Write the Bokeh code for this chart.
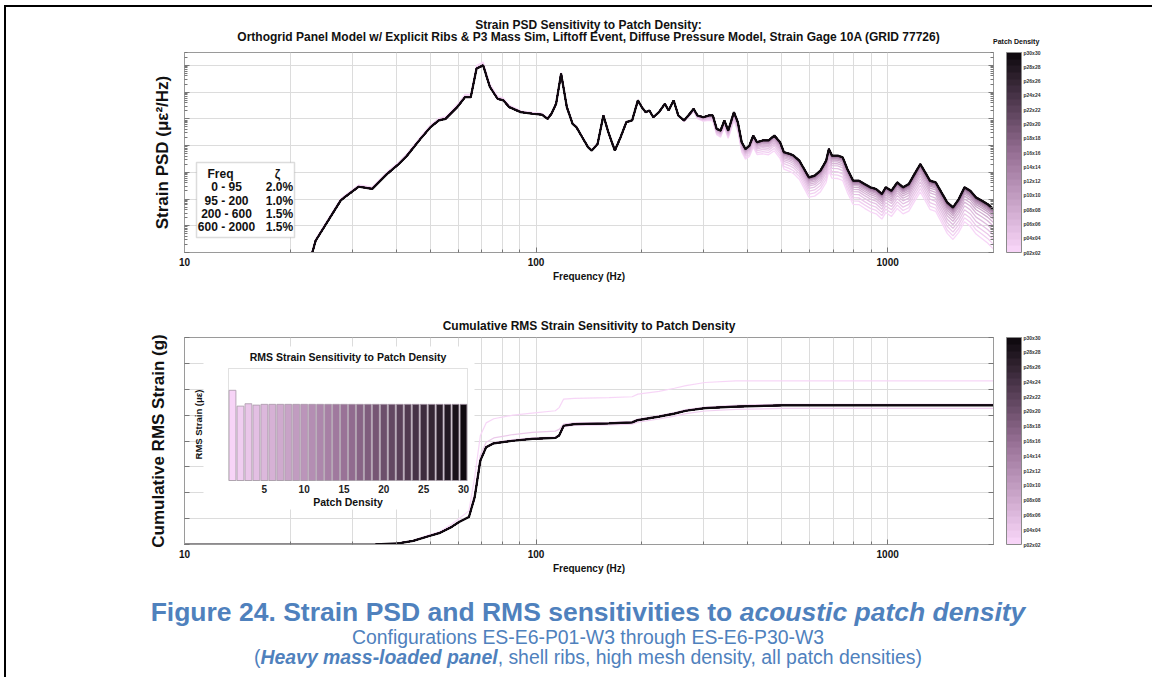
import numpy as np
from bokeh.plotting import figure
from bokeh.models import (Range1d, FixedTicker, LogAxis, LinearAxis, Label, BoxAnnotation,
                          ColorBar, LinearColorMapper, Div, LinearScale, Title)
from bokeh.layouts import column
from bokeh.core.properties import value
from bokeh.embed import file_html
from bokeh.resources import INLINE

# ---------------------------------------------------------------- data
# Strain PSD of the densest patch configuration (P30), log10 of ue^2/Hz
psd_freq = [21.0, 23.1, 23.6, 27.8, 28.5, 31.3, 34.2, 37.7, 40.7, 43.0, 46.9, 50.1, 52.9, 55.3,
            59.7, 62.8, 65.2, 67.7, 70.7, 73.9, 77.7, 80.7, 83.8, 90.4, 97.5, 103.8, 107.8,
            110.6, 114.0, 117.8, 122.3, 127.0, 130.2, 135.3, 140.5, 144.0, 149.6, 155.4, 160.5,
            167.5, 173.9, 180.6, 187.6, 194.8, 199.7, 204.9, 210.1, 215.4, 223.7, 232.3, 238.3,
            246.2, 253.8, 263.6, 273.6, 280.6, 287.8, 298.8, 310.3, 318.2, 326.4, 334.7, 343.2,
            351.9, 365.4, 374.8, 384.4, 394.1, 404.3, 414.6, 425.1, 441.4, 458.4, 476.0, 494.3,
            506.9, 526.4, 539.8, 560.6, 575.0, 597.0, 619.9, 643.7, 668.5, 680.4, 694.2, 720.9,
            745.0, 767.8, 797.3, 827.9, 859.8, 892.9, 927.3, 962.9, 987.4, 1025.4, 1064.9,
            1105.8, 1148.4, 1192.6, 1238.5, 1286.2, 1319.0, 1369.7, 1422.3, 1477.0, 1533.9,
            1593.0, 1654.3, 1717.9, 1784.1, 1852.8, 1924.1, 2000.0]
psd_log_p30 = [-5.6, -5.0, -4.56, -3.06, -2.94, -2.54, -2.62, -2.06, -1.69, -1.37, -0.75, -0.31,
               -0.06, 0.0, 0.44, 0.81, 0.81, 1.875, 2.0, 1.19, 0.75, 0.69, 0.44, 0.25, 0.19, 0.16,
               0.0, 0.19, 0.56, 1.69, 0.44, -0.19, -0.31, -0.69, -1.06, -1.19, -0.94, 0.125,
               -0.5, -1.19, -0.69, -0.125, -0.06, 0.69, 0.44, 0.25, 0.31, 0.06, 0.25, 0.56, 0.31,
               0.69, 0.125, -0.06, 0.19, 0.375, 0.125, 0.06, 0.125, 0.125, -0.375, -0.44, -0.06,
               -0.44, 0.25, -0.125, -0.875, -1.125, -1.0, -0.625, -0.875, -0.81, -0.81, -0.625,
               -0.875, -1.25, -1.31, -1.375, -1.5625, -1.8125, -2.19, -2.125, -1.94, -1.5625,
               -1.125, -1.375, -1.375, -1.44, -1.875, -2.31, -2.31, -2.44, -2.56, -2.625, -2.81,
               -2.56, -2.69, -2.375, -2.56, -2.44, -2.06, -1.69, -2.06, -2.31, -2.375, -2.75,
               -3.125, -3.31, -3.0, -2.56, -2.69, -2.94, -3.06, -3.19, -3.375]

# deviation (decades) of each patch density P01..P30 from P30, read at these frequencies
offset_freq = [10, 55, 70, 90, 250, 380, 500, 700, 1000, 1400, 2000]
psd_offsets = [
    [0.04, 0.08, 0.12, 0.05, 0.0, -0.35, -0.62, -0.85, -0.95, -1.10, -1.50],
    [0.00, 0.01, 0.02, 0.01, 0.0, -0.30, -0.52, -0.72, -0.82, -0.98, -1.32],
    [0.02, 0.04, 0.05, 0.03, 0.0, -0.24, -0.42, -0.60, -0.70, -0.85, -1.15],
    [0.00, 0.01, 0.01, 0.01, 0.0, -0.19, -0.34, -0.48, -0.58, -0.72, -0.98],
    [0.00, 0.00, 0.00, 0.00, 0.0, -0.15, -0.27, -0.38, -0.47, -0.60, -0.80],
    [0.00, 0.00, 0.00, 0.00, 0.0, -0.12, -0.21, -0.30, -0.38, -0.48, -0.64],
    [0.00, 0.00, 0.00, 0.00, 0.0, -0.09, -0.16, -0.23, -0.30, -0.38, -0.50],
    [0.00, 0.00, 0.00, 0.00, 0.0, -0.07, -0.12, -0.17, -0.23, -0.29, -0.38],
    [0.00, 0.00, 0.00, 0.00, 0.0, -0.05, -0.09, -0.13, -0.17, -0.22, -0.29],
    [0.00, 0.00, 0.00, 0.00, 0.0, -0.04, -0.07, -0.10, -0.13, -0.17, -0.22],
    [0.00, 0.00, 0.00, 0.00, 0.0, -0.03, -0.05, -0.08, -0.10, -0.13, -0.17],
    [0.00, 0.00, 0.00, 0.00, 0.0, -0.02, -0.04, -0.06, -0.08, -0.10, -0.13],
    [0.00, 0.00, 0.00, 0.00, 0.0, -0.02, -0.03, -0.05, -0.06, -0.08, -0.10],
    [0.00, 0.00, 0.00, 0.00, 0.0, -0.01, -0.02, -0.04, -0.05, -0.06, -0.08],
    [0.00, 0.00, 0.00, 0.00, 0.0, -0.01, -0.02, -0.03, -0.04, -0.05, -0.06],
    [0.00, 0.00, 0.00, 0.00, 0.0, 0.00, -0.01, -0.02, -0.03, -0.04, -0.05],
    [0.00, 0.00, 0.00, 0.00, 0.0, 0.00, -0.01, -0.02, -0.02, -0.03, -0.04],
    [0.00, 0.00, 0.00, 0.00, 0.0, 0.00, -0.01, -0.01, -0.02, -0.02, -0.03],
    [0.00, 0.00, 0.00, 0.00, 0.0, 0.00, 0.00, -0.01, -0.01, -0.02, -0.02],
    [0.00, 0.00, 0.00, 0.00, 0.0, 0.00, 0.00, -0.01, -0.01, -0.02, -0.02],
    [0.00, 0.00, 0.00, 0.00, 0.0, 0.00, 0.00, -0.01, -0.01, -0.01, -0.02],
    [0.00, 0.00, 0.00, 0.00, 0.0, 0.00, 0.00, 0.00, -0.01, -0.01, -0.01],
    [0.00, 0.00, 0.00, 0.00, 0.0, 0.00, 0.00, 0.00, 0.00, -0.01, -0.01],
    [0.00, 0.00, 0.00, 0.00, 0.0, 0.00, 0.00, 0.00, 0.00, 0.00, -0.01],
    [0.00, 0.00, 0.00, 0.00, 0.0, 0.00, 0.00, 0.00, 0.00, 0.00, 0.00],
    [0.00, 0.00, 0.00, 0.00, 0.0, 0.00, 0.00, 0.00, 0.00, 0.00, 0.00],
    [0.00, 0.00, 0.00, 0.00, 0.0, 0.00, 0.00, 0.00, 0.00, 0.00, 0.00],
    [0.00, 0.00, 0.00, 0.00, 0.0, 0.00, 0.00, 0.00, 0.00, 0.00, 0.00],
    [0.00, 0.00, 0.00, 0.00, 0.0, 0.00, 0.00, 0.00, 0.00, 0.00, 0.00],
    [0.00, 0.00, 0.00, 0.00, 0.0, 0.00, 0.00, 0.00, 0.00, 0.00, 0.00],
]

# cumulative RMS strain
cum_freq = [10, 30, 35, 40.4, 44.7, 49.4, 53.3, 57.5, 60.4, 64.4, 66.9, 69.4, 72.1, 75.8, 86.0,
            97.5, 113.4, 116.3, 119.8, 128.6, 161.2, 187.6, 194.8, 223.7, 247.4, 266.8, 302.4,
            369.6, 499.8, 2000]
cum_p30 = [0, 0, 0.01, 0.04, 0.14, 0.32, 0.45, 0.68, 0.87, 1.06, 1.83, 3.24, 3.76, 3.91, 4.01,
           4.08, 4.12, 4.21, 4.59, 4.65, 4.68, 4.72, 4.81, 4.94, 5.06, 5.17, 5.27, 5.33, 5.38, 5.38]
cum_p01 = [0, 0, 0.01, 0.05, 0.16, 0.36, 0.50, 0.78, 1.00, 1.30, 2.60, 4.20, 4.70, 4.86, 5.00,
           5.08, 5.17, 5.29, 5.62, 5.65, 5.68, 5.71, 5.81, 5.92, 6.04, 6.14, 6.26, 6.32, 6.32, 6.32]
cum_p02 = [0, 0, 0.01, 0.04, 0.14, 0.32, 0.45, 0.68, 0.87, 1.06, 1.85, 3.30, 3.80, 3.95, 4.05,
           4.12, 4.16, 4.24, 4.55, 4.60, 4.62, 4.65, 4.73, 4.85, 4.96, 5.06, 5.16, 5.22, 5.26, 5.26]
cum_p03 = [0, 0, 0.01, 0.04, 0.15, 0.33, 0.47, 0.70, 0.90, 1.10, 2.00, 3.45, 3.95, 4.12, 4.25,
           4.33, 4.38, 4.45, 4.65, 4.70, 4.72, 4.76, 4.85, 4.98, 5.10, 5.21, 5.31, 5.38, 5.42, 5.42]

patch_density = list(range(1, 31))
rms_strain = [6.32, 5.26, 5.42, 5.33, 5.38, 5.38, 5.38, 5.38, 5.38, 5.38, 5.38, 5.38, 5.38, 5.38,
              5.38, 5.38, 5.38, 5.38, 5.38, 5.38, 5.38, 5.38, 5.38, 5.38, 5.38, 5.38, 5.38, 5.38,
              5.38, 5.38]

cb_ticks = [2, 4, 6, 8, 10, 12, 14, 16, 18, 20, 22, 24, 26, 28, 30]
cb_labels = ["p02x02", "p04x04", "p06x06", "p08x08", "p10x10", "p12x12", "p14x14", "p16x16",
             "p18x18", "p20x20", "p22x22", "p24x24", "p26x26", "p28x28", "p30x30"]
x_major = [10, 100, 1000]
x_major_labels = ["10", "100", "1000"]
x_minor = [20, 30, 40, 50, 60, 70, 80, 90, 200, 300, 400, 500, 600, 700, 800, 900, 2000]
inset_ticks = [5, 10, 15, 20, 25, 30]
damp_lo = [0, 95, 200, 600]
damp_hi = [95, 200, 600, 2000]
damp_zeta = [2.0, 1.0, 1.5, 1.5]

title_1 = "Strain PSD Sensitivity to Patch Density:"
title_2 = ("Orthogrid Panel Model w/ Explicit Ribs & P3 Mass Sim, Liftoff Event, "
           "Diffuse Pressure Model, Strain Gage 10A (GRID 77726)")
title_cum = "Cumulative RMS Strain Sensitivity to Patch Density"

# ---------------------------------------------------------------- style / layout
FN = "Liberation Sans"
FA = "Liberation Sans"
W = 1146
X0, Y0 = 6, 7            # page position of the content's left/top
FL, FR = 184, 993        # frame left / right (page px)
GRID = "#dcdcdc"
AX = "#9a9a9a"


def make_palette(n):
    stops = [(0.0, (247, 212, 247)), (0.5, (150, 110, 148)), (1.0, (16, 10, 16))]
    out = []
    for i in range(n):
        t = i / (n - 1)
        for (t0, c0), (t1, c1) in zip(stops, stops[1:]):
            if t <= t1:
                f = (t - t0) / (t1 - t0)
                c = [int(round(a + (b - a) * f)) for a, b in zip(c0, c1)]
                break
        out.append("#%02x%02x%02x" % tuple(c))
    return out


colors = make_palette(30)


def new_fig(height, top_px, frame_top, frame_bottom, y_type, y_range):
    f = figure(width=W, height=height, x_axis_type="log", y_axis_type=y_type,
               x_range=Range1d(10, 2000), y_range=y_range, output_backend="svg",
               toolbar_location=None, title=None,
               min_border_left=FL - X0, min_border_right=X0 + W - FR,
               min_border_top=frame_top - top_px, min_border_bottom=top_px + height - frame_bottom)
    f.outline_line_color = AX
    f.background_fill_color = "white"
    f.border_fill_color = "white"
    f.xaxis.ticker = FixedTicker(ticks=x_major, minor_ticks=x_minor)
    f.xaxis.major_label_overrides = {t: l for t, l in zip(x_major, x_major_labels)}
    f.xaxis.axis_label = "Frequency (Hz)"
    for ax in f.xaxis:
        ax.axis_line_color = AX
        ax.major_tick_in, ax.major_tick_out = 5, 0
        ax.minor_tick_in, ax.minor_tick_out = 3, 0
        ax.major_tick_line_color = "#777777"
        ax.minor_tick_line_color = "#777777"
        ax.major_label_text_font = FN
        ax.major_label_text_font_style = "bold"
        ax.major_label_text_font_size = "10px"
        ax.major_label_text_color = "#111111"
        ax.major_label_standoff = 5
        ax.axis_label_text_font = FN
        ax.axis_label_text_font_style = "bold"
        ax.axis_label_text_font_size = "10px"
        ax.axis_label_text_color = "#111111"
        ax.axis_label_standoff = 2
    f.xgrid.grid_line_color = GRID
    f.xgrid.minor_grid_line_color = GRID
    f.ygrid.grid_line_color = GRID
    return f


def style_y(ax, ticker):
    ax.ticker = ticker
    ax.axis_line_color = AX
    ax.major_tick_in, ax.major_tick_out = 5, 0
    ax.minor_tick_in, ax.minor_tick_out = 3, 0
    ax.major_tick_line_color = "#777777"
    ax.minor_tick_line_color = "#777777"
    ax.major_label_text_font_size = "1px"
    ax.major_label_text_alpha = 0
    ax.major_label_standoff = 0


def add_colorbar(f, frame_h):
    mapper = LinearColorMapper(palette=colors, low=2, high=30)
    cb = ColorBar(color_mapper=mapper, ticker=FixedTicker(ticks=cb_ticks),
                  major_label_overrides={t: l for t, l in zip(cb_ticks, cb_labels)},
                  major_label_text_font=FN, major_label_text_font_size="5px",
                  major_label_text_font_style="bold", major_label_text_color="#333333",
                  major_tick_line_color=None, bar_line_color="#8a8a8a", bar_line_width=1,
                  width=15, height=frame_h, padding=0, margin=0, label_standoff=2,
                  location=(13, 0), background_fill_alpha=0)
    f.add_layout(cb, "right")


def scr_label(f, x, y, text, size, font=FN, align="center", angle=0, style="bold", color="#111111"):
    f.add_layout(Label(x=x, y=y, x_units="screen", y_units="screen", text=text,
                       text_font=font, text_font_size=size, text_font_style=style,
                       text_align=align, text_baseline="middle", angle=angle,
                       text_color=color))


# ================================================================ heading above the PSD plot
T_FT, T_FB = 52, 252
HEAD_H = T_FT - 3 - Y0
cx = (FL + FR) / 2 - X0


def abs_line(text, cy, size, left=None, width=1000, align="center"):
    lft = cx - width / 2 if left is None else left
    return ('<div style="position:absolute;left:%.1fpx;width:%dpx;top:%.1fpx;height:16px;'
            'line-height:16px;text-align:%s;font-size:%s;white-space:nowrap;">%s</div>'
            % (lft, width, cy - Y0 - 8, align, size, text))


heading = Div(text=(
    '<div style="position:relative;width:%dpx;height:%dpx;font-family:\'Liberation Sans\','
    'Arial,sans-serif;font-weight:bold;color:#111111;">' % (W, HEAD_H)
    + abs_line(title_1, 25, "12px")
    + abs_line(title_2.replace("&", "&amp;"), 37, "12px")
    + abs_line("Patch Density", 42, "7px", left=FR - X0, width=60, align="left")
    + '</div>'), width=W, height=HEAD_H, margin=(0, 0, 0, 0))

# ================================================================ top: strain PSD
T_TOP = T_FT - 3
T_H = T_FB + 38 - T_TOP
top = new_fig(T_H, T_TOP, T_FT, T_FB, "log", Range1d(1e-5, 10 ** 2.48))
y_maj = [10.0 ** e for e in range(-5, 3)]
y_min = [k * 10.0 ** e for e in range(-5, 3) for k in range(2, 10)]
style_y(top.yaxis[0], FixedTicker(ticks=y_maj, minor_ticks=y_min))
top.yaxis.axis_label = "Strain PSD (\u03bc\u03b5\u00b2/Hz)"
top.yaxis.axis_label_text_font = FA
top.yaxis.axis_label_text_font_style = "bold"
top.yaxis.axis_label_text_font_size = "17px"
top.yaxis.axis_label_text_color = "#111111"
top.yaxis.axis_label_standoff = 13
ry = LogAxis()
style_y(ry, FixedTicker(ticks=y_maj, minor_ticks=y_min))
top.add_layout(ry, "right")

logf = np.log10(psd_freq)
xs, ys = [], []
for i in range(30):
    off = np.interp(logf, np.log10(offset_freq), psd_offsets[i])
    xs.append(psd_freq)
    ys.append(list(10.0 ** (np.array(psd_log_p30) + off)))
widths = [1.3] * 29 + [2.2]
top.multi_line(xs, ys, line_color=colors, line_width=widths, line_alpha=0.95)

tfw, tfh = FR - FL, T_FB - T_FT

# damping table
top.add_layout(BoxAnnotation(left=196 - FL, right=294 - FL, top=T_FB - 162, bottom=T_FB - 237,
                             left_units="screen", right_units="screen", top_units="screen",
                             bottom_units="screen", fill_color="white", fill_alpha=1,
                             line_color="#8c8c8c", line_width=1.5))
scr_label(top, 220 - FL, T_FB - 173, "Freq", "12px", font=FA)
scr_label(top, 277 - FL, T_FB - 173, "\u03b6", "12px", font=FA)
for k, (lo, hi, z) in enumerate(zip(damp_lo, damp_hi, damp_zeta)):
    yy = T_FB - (186.7 + 13.33 * k)
    scr_label(top, 226 - FL, yy, "%d - %d" % (lo, hi), "12px", font=FA)
    scr_label(top, 279 - FL, yy, "%.1f%%" % z, "12px", font=FA)

add_colorbar(top, tfh)

# ================================================================ bottom: cumulative RMS
B_TOP, B_H, B_FT, B_FB = T_FB + 38, 287, 337, 544
bot = new_fig(B_H, B_TOP, B_FT, B_FB, "linear", Range1d(0, 8))
style_y(bot.yaxis[0], FixedTicker(ticks=list(range(0, 9))))
bot.yaxis.axis_label = "Cumulative RMS Strain (g)"
bot.yaxis.axis_label_text_font = FA
bot.yaxis.axis_label_text_font_style = "bold"
bot.yaxis.axis_label_text_font_size = "17px"
bot.yaxis.axis_label_text_color = "#111111"
bot.yaxis.axis_label_standoff = 17
ry2 = LinearAxis()
style_y(ry2, FixedTicker(ticks=list(range(0, 9))))
bot.add_layout(ry2, "right")
bot.add_layout(Title(text=title_cum, text_font=FN, text_font_size="12px", text_font_style="bold",
                     text_color="#111111", align="center", standoff=10), "above")

bfw, bfh = FR - FL, B_FB - B_FT

# inset: white panel over the grid
IL, IR, IT, IB = 228, 467, 368, 480
bot.add_layout(BoxAnnotation(left=203 - FL, right=474 - FL, top=B_FB - 346, bottom=B_FB - 509,
                             left_units="screen", right_units="screen", top_units="screen",
                             bottom_units="screen", fill_color="white", fill_alpha=1,
                             line_color=None, level="underlay"))

cum_sets = {1: cum_p01, 2: cum_p02, 3: cum_p03}
cxs, cys = [], []
for i in range(30):
    cxs.append(cum_freq)
    cys.append(cum_sets.get(i + 1, cum_p30))
bot.multi_line(cxs, cys, line_color=colors, line_width=[1.2] * 29 + [2.2], line_alpha=0.95)

ix0, ix1 = 0.5, 30.5
iy0, iy1 = 0.28, 7.78
ux = (IR - IL) / (ix1 - ix0)
uy = (IB - IT) / (iy1 - iy0)
bot.extra_x_ranges = {"ix": Range1d(ix0 - (IL - FL) / ux, ix1 + (FR - IR) / ux)}
bot.extra_y_ranges = {"iy": Range1d(iy0 - (B_FB - IB) / uy, iy1 + (IT - B_FT) / uy)}
bot.extra_x_scales = {"ix": LinearScale()}
bot.extra_y_scales = {"iy": LinearScale()}

bot.vbar(x=patch_density, top=rms_strain, bottom=iy0, width=0.86, fill_color=colors,
         line_color="#a898a8", line_width=0.8, x_range_name="ix", y_range_name="iy")
bot.text(x=inset_ticks, y=[iy0 - 4 / uy] * len(inset_ticks), text=[str(t) for t in inset_ticks],
         text_font=value(FA), text_font_size="10px", text_font_style="bold",
         text_align="center", text_baseline="top", text_color="#222222",
         x_range_name="ix", y_range_name="iy")
bot.add_layout(BoxAnnotation(left=IL - FL, right=IR - FL, top=B_FB - IT, bottom=B_FB - IB,
                             left_units="screen", right_units="screen", top_units="screen",
                             bottom_units="screen", fill_alpha=0, line_color="#9a9a9a",
                             line_width=1))
scr_label(bot, (IL + IR) / 2 - FL, B_FB - 356, "RMS Strain Sensitivity to Patch Density", "10.5px", font=FA)
scr_label(bot, (IL + IR) / 2 - FL, B_FB - 501, "Patch Density", "10.5px", font=FA)
scr_label(bot, 198 - FL, B_FB - 424, "RMS Strain (\u03bc\u03b5)", "9.5px", font=FA, angle=np.pi / 2)

add_colorbar(bot, bfh)

# ================================================================ caption
caption = Div(text=(
    '<div style="margin-left:25px;width:1114px;text-align:center;'
    'font-family:\'Liberation Sans\',Arial,sans-serif;color:#4f81bd;padding-top:21px;">'
    '<div style="font-size:26.5px;font-weight:bold;line-height:28px;">'
    'Figure 24. Strain PSD and RMS sensitivities to <i>acoustic patch density</i></div>'
    '<div style="font-size:19.4px;line-height:22px;">'
    'Configurations ES-E6-P01-W3 through ES-E6-P30-W3</div>'
    '<div style="font-size:19.4px;line-height:19px;">'
    '(<b><i>Heavy mass-loaded panel</i></b>, shell ribs, high mesh density, all patch densities)'
    '</div></div>'), width=W, height=100, margin=(0, 0, 0, 0))

layout = column(heading, top, bot, caption, spacing=0,
                styles={"border-top": "2px solid #000", "border-left": "2px solid #000",
                        "margin-left": "4px", "margin-top": "5px"})

open("out.html", "w").write(file_html(layout, INLINE))
